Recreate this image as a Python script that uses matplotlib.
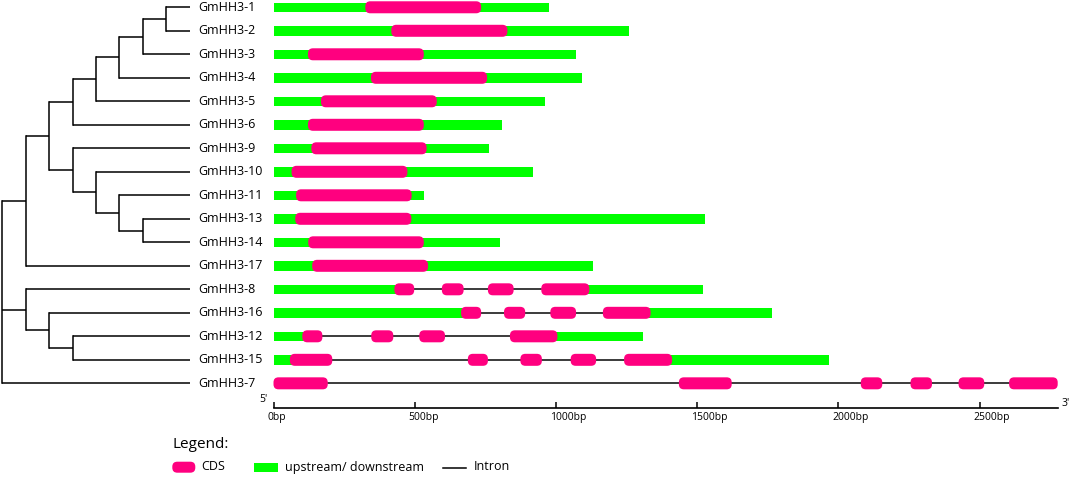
import matplotlib
matplotlib.use("Agg")
import matplotlib.pyplot as plt
from matplotlib.patches import FancyBboxPatch, Rectangle
from matplotlib.transforms import ScaledTranslation

plt.rcParams['font.family'] = ['Open Sans', 'DejaVu Sans']

# cladogram, built from its clades
clade_a = (((("GmHH3-1", "GmHH3-2"), "GmHH3-3"), "GmHH3-4"), "GmHH3-5"), "GmHH3-6"
clade_a = tuple(clade_a)
clade_b = ("GmHH3-9", ("GmHH3-10", ("GmHH3-11", ("GmHH3-13", "GmHH3-14"))))
clade_c = ("GmHH3-8", ("GmHH3-16", ("GmHH3-12", "GmHH3-15")))
tree = (((clade_a, clade_b), "GmHH3-17"), clade_c, "GmHH3-7")

# gene structures (bp), same order as tree leaves
genes = ["GmHH3-1", "GmHH3-2", "GmHH3-3", "GmHH3-4", "GmHH3-5", "GmHH3-6", "GmHH3-9",
         "GmHH3-10", "GmHH3-11", "GmHH3-13", "GmHH3-14", "GmHH3-17", "GmHH3-8",
         "GmHH3-16", "GmHH3-12", "GmHH3-15", "GmHH3-7"]
gene_len = [975, 1258, 1070, 1091, 961, 810, 763, 919, 534, 1527, 802, 1130, 1520,
            1765, 1307, 1966, 2776]
cds = [
    [(325, 735)],
    [(417, 828)],
    [(122, 532)],
    [(345, 756)],
    [(168, 578)],
    [(122, 532)],
    [(134, 542)],
    [(64, 474)],
    [(80, 489)],
    [(77, 488)],
    [(123, 532)],
    [(137, 547)],
    [(428, 498), (596, 673), (759, 850), (948, 1118)],
    [(664, 735), (816, 891), (980, 1071), (1166, 1335)],
    [(102, 173), (346, 424), (516, 607), (837, 1005)],
    [(58, 208), (688, 759), (874, 950), (1052, 1142), (1241, 1411)],
    [(0, 192), (1435, 1622), (2079, 2155), (2255, 2331), (2425, 2516), (2604, 2776)],
]
ticks = [0, 500, 1000, 1500, 2000, 2500]
tick_labels = ["0bp", "500bp", "1000bp", "1500bp", "2000bp", "2500bp"]

PINK = "#FF007F"
GREEN = "#00FF00"

W, H = 1072, 478
fig = plt.figure(figsize=(W / 100, H / 100), dpi=100)


def px_rect(x0, y0, x1, y1):
    return [x0 / W, 1 - y1 / H, (x1 - x0) / W, (y1 - y0) / H]


XMAX = 2776
YLIM = (17.05, -0.31)
ax = fig.add_axes(px_rect(273.5, 0, 1057.7, 408))
ax.set_xlim(0, XMAX)
ax.set_ylim(*YLIM)
axt = fig.add_axes(px_rect(0, 0, 273.5, 408))
axt.set_xlim(-0.1026, 11.585)
axt.set_ylim(*YLIM)
axt.axis('off')

# ---- tree ----
row_of = {g: i for i, g in enumerate(genes)}
LEAF_X = 8


def draw_node(node, level):
    if isinstance(node, str):
        y = row_of[node]
        axt.text(LEAF_X + 0.36, y, node, fontsize=9, va='center', ha='left')
        return LEAF_X, y
    kids = [draw_node(ch, level + 1) for ch in node]
    ys = [k[1] for k in kids]
    for kx, ky in kids:
        axt.plot([level, kx], [ky, ky], color='black', lw=1.1, solid_capstyle='butt')
    axt.plot([level, level], [min(ys), max(ys)], color='black', lw=1.1, solid_capstyle='projecting')
    return level, (ys[0] + ys[-1]) / 2


draw_node(tree, 0)

# ---- gene structures ----
fig.canvas.draw()
px_per_bp = ax.bbox.width / XMAX
px_per_row = ax.bbox.height / abs(YLIM[0] - YLIM[1])
aspect = px_per_bp / px_per_row
rad = 5.0 / px_per_bp
utr_h = 9.5 / px_per_row
cds_h = 12.0 / px_per_row

for i, g in enumerate(genes):
    exons = cds[i]
    first, last = exons[0][0], exons[-1][1]
    if first > 0:
        ax.add_patch(Rectangle((0, i - utr_h / 2), first + rad, utr_h, color=GREEN, lw=0, zorder=1))
    if last < gene_len[i]:
        ax.add_patch(Rectangle((last - rad, i - utr_h / 2), gene_len[i] - last + rad, utr_h,
                               color=GREEN, lw=0, zorder=1))
    if len(exons) > 1:
        ax.plot([exons[0][1], exons[-1][0]], [i, i], color='#1a1a1a', lw=1.2, zorder=1)
    for s, e in exons:
        ax.add_patch(FancyBboxPatch((s, i - cds_h / 2), e - s, cds_h,
                                    boxstyle=f"round,pad=0,rounding_size={rad}",
                                    mutation_aspect=aspect, fc=PINK, ec='none',
                                    zorder=2, clip_on=False))

for side in ['top', 'left', 'right']:
    ax.spines[side].set_visible(False)
ax.spines['bottom'].set_linewidth(1.2)
ax.set_yticks([])
ax.set_xticks(ticks, labels=tick_labels)
ax.tick_params(axis='x', direction='in', length=4.5, width=1.1, pad=3, labelsize=7.5)
for lab in ax.get_xticklabels():
    lab.set_ha('left')
    lab.set_transform(lab.get_transform() + ScaledTranslation(-6 / 100, 0, fig.dpi_scale_trans))

# ---- overlay: 5'/3' and legend ----
axo = fig.add_axes([0, 0, 1, 1])
axo.set_xlim(0, W)
axo.set_ylim(H, 0)
axo.axis('off')
axo.text(259, 399, "5'", fontsize=7.5, va='center', ha='left')
axo.text(1062, 403, "3'", fontsize=7.5, va='center', ha='left')

axo.text(172, 445, "Legend:", fontsize=11, va='center', ha='left')
axo.add_patch(FancyBboxPatch((172.3, 461.7), 23, 11, boxstyle="round,pad=0,rounding_size=5",
                             fc=PINK, ec='none'))
axo.text(201.5, 467, "CDS", fontsize=9, va='center', ha='left')
axo.add_patch(Rectangle((254.3, 462.7), 24, 9, color=GREEN, lw=0))
axo.text(285, 467, "upstream/ downstream", fontsize=9, va='center', ha='left')
axo.plot([443.3, 466], [467.7, 467.7], color='black', lw=1.1)
axo.text(473.3, 467, "Intron", fontsize=9, va='center', ha='left')

fig.savefig("out.png", dpi=100)
